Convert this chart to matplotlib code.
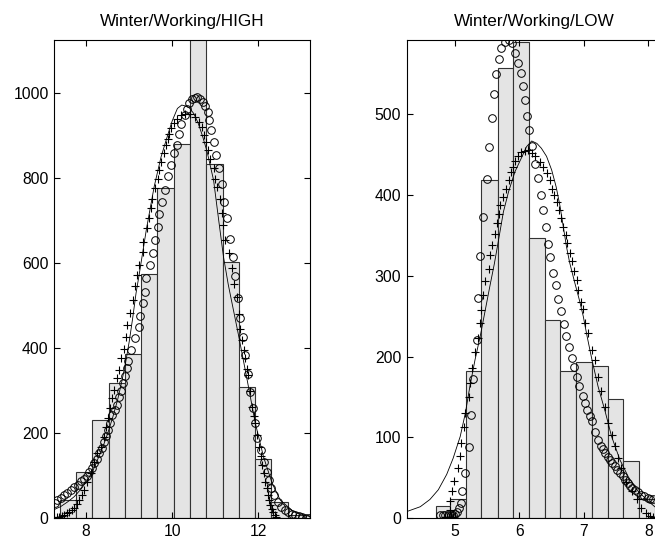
import matplotlib.pyplot as plt
import numpy as np

plt.rcParams['font.family'] = ['Liberation Sans', 'DejaVu Sans']
plt.rcParams['font.size'] = 11.3

# ---------------- Winter/Working/HIGH ----------------
high_edges = [7.389, 7.767, 8.145, 8.523, 8.901, 9.279, 9.657, 10.035,
              10.413, 10.791, 11.169, 11.547, 11.925, 12.303, 12.681, 13.059]
high_counts = [42, 109, 230, 317, 387, 575, 777, 880, 1180, 834, 603, 309, 140, 38, 8]

high_circles = np.array([
    (7.28, 35), (7.33, 42), (7.41, 48), (7.49, 54), (7.56, 60), (7.64, 67), (7.72, 72), (7.80, 78),
    (7.88, 86), (7.95, 93), (8.01, 100), (8.07, 109), (8.13, 118), (8.19, 129), (8.25, 140), (8.30, 152),
    (8.36, 165), (8.42, 180), (8.47, 193), (8.51, 207), (8.56, 224), (8.61, 242), (8.66, 254), (8.71, 266),
    (8.76, 285), (8.81, 300), (8.86, 318), (8.90, 335), (8.94, 352), (8.98, 370), (9.05, 395), (9.13, 423),
    (9.22, 450), (9.26, 475), (9.31, 505), (9.36, 532), (9.40, 564), (9.49, 595), (9.55, 624), (9.60, 654),
    (9.66, 685), (9.70, 715), (9.77, 744), (9.84, 772), (9.91, 805), (9.97, 830), (10.05, 858), (10.11, 879),
    (10.15, 903), (10.21, 927), (10.29, 948), (10.34, 962), (10.40, 978), (10.47, 986), (10.53, 989),
    (10.58, 990), (10.65, 986), (10.71, 980), (10.76, 970), (10.82, 955), (10.86, 936), (10.90, 913),
    (10.96, 885), (11.02, 854), (11.09, 823), (11.15, 786), (11.21, 744), (11.27, 705), (11.33, 656),
    (11.40, 615), (11.46, 570), (11.53, 517), (11.58, 470), (11.64, 427), (11.69, 384), (11.76, 340),
    (11.81, 297), (11.88, 258), (11.93, 223), (11.98, 188), (12.06, 160), (12.12, 132), (12.19, 109),
    (12.24, 89), (12.30, 70), (12.37, 54), (12.45, 38), (12.53, 27), (12.62, 19), (12.70, 13), (12.78, 9),
    (12.86, 6), (12.94, 4), (13.02, 2), (13.10, 1), (13.17, 1)])

high_plus = np.array([
    (7.26, 3), (7.32, 3), (7.37, 3), (7.43, 5), (7.49, 7), (7.55, 11), (7.60, 15), (7.66, 19), (7.72, 23),
    (7.78, 32), (7.84, 42), (7.90, 54), (7.95, 66), (8.03, 85), (8.11, 105), (8.19, 132), (8.26, 152),
    (8.34, 168), (8.42, 191), (8.46, 215), (8.51, 235), (8.56, 258), (8.61, 282), (8.65, 301), (8.71, 329),
    (8.77, 348), (8.81, 376), (8.87, 399), (8.92, 427), (8.96, 454), (9.02, 482), (9.08, 512), (9.14, 545),
    (9.19, 572), (9.23, 595), (9.31, 627), (9.33, 650), (9.41, 682), (9.45, 705), (9.50, 729), (9.54, 752),
    (9.60, 776), (9.66, 799), (9.70, 819), (9.74, 838), (9.80, 858), (9.85, 878), (9.89, 891), (9.93, 905),
    (9.98, 917), (10.05, 929), (10.12, 940), (10.20, 948), (10.30, 952), (10.42, 952), (10.53, 944),
    (10.61, 933), (10.69, 921), (10.74, 901), (10.79, 885), (10.84, 866), (10.88, 846), (10.96, 823),
    (11.00, 799), (11.04, 780), (11.10, 752), (11.16, 717), (11.19, 689), (11.23, 654), (11.31, 623),
    (11.39, 588), (11.43, 552), (11.50, 521), (11.54, 480), (11.58, 446), (11.62, 419), (11.66, 395),
    (11.70, 376), (11.74, 350), (11.77, 336), (11.81, 300), (11.85, 262), (11.89, 240), (11.93, 223),
    (11.97, 195), (12.01, 168), (12.05, 145), (12.09, 125), (12.13, 105), (12.16, 85), (12.19, 70),
    (12.22, 54), (12.25, 42), (12.28, 31), (12.31, 22), (12.34, 15), (12.38, 8), (12.42, 2)])

high_line = np.array([
    (7.26, 20), (7.41, 27), (7.57, 38), (7.72, 50), (7.88, 68), (8.03, 89), (8.15, 110), (8.26, 136),
    (8.38, 165), (8.50, 199), (8.62, 238), (8.73, 278), (8.83, 322), (8.92, 368), (9.00, 415), (9.08, 470),
    (9.16, 530), (9.23, 572), (9.40, 680), (9.58, 780), (9.74, 850), (9.89, 900), (10.00, 935), (10.12, 964),
    (10.22, 972), (10.30, 970), (10.40, 965), (10.50, 952), (10.60, 930), (10.70, 900), (10.81, 862),
    (10.96, 795), (11.08, 700), (11.19, 615), (11.30, 550), (11.42, 490), (11.54, 430), (11.74, 325),
    (11.93, 223), (12.12, 144), (12.32, 82), (12.51, 42), (12.82, 15), (13.20, 3)])

# ---------------- Winter/Working/LOW ----------------
low_edges = [4.70, 4.92, 5.17, 5.41, 5.66, 5.90, 6.145, 6.39, 6.635, 6.88,
             7.12, 7.37, 7.61, 7.86, 8.10]
low_counts = [15, 24, 182, 419, 557, 590, 347, 245, 182, 193, 188, 147, 71, 24]

low_circles = np.array([
    (4.77, 4), (4.81, 4), (4.85, 4), (4.89, 4), (4.93, 4), (4.97, 4), (5.00, 5), (5.03, 8), (5.06, 12),
    (5.09, 18), (5.10, 33), (5.16, 56), (5.21, 88), (5.25, 128), (5.28, 172), (5.34, 221), (5.35, 273),
    (5.39, 324), (5.44, 373), (5.49, 420), (5.53, 459), (5.57, 495), (5.61, 525), (5.63, 550), (5.68, 568),
    (5.72, 582), (5.78, 590), (5.83, 592), (5.88, 588), (5.93, 576), (5.97, 564), (6.02, 551), (6.05, 535),
    (6.09, 518), (6.12, 498), (6.15, 480), (6.19, 461), (6.24, 439), (6.29, 421), (6.33, 400), (6.36, 381),
    (6.41, 360), (6.44, 340), (6.48, 323), (6.52, 304), (6.56, 289), (6.60, 271), (6.64, 256), (6.69, 240),
    (6.73, 226), (6.77, 212), (6.81, 198), (6.84, 187), (6.89, 175), (6.93, 163), (6.98, 151), (7.02, 142),
    (7.05, 134), (7.09, 126), (7.12, 120), (7.17, 107), (7.22, 97), (7.27, 89), (7.30, 85), (7.33, 80),
    (7.37, 76), (7.40, 72), (7.44, 68), (7.48, 64), (7.52, 60), (7.56, 56), (7.60, 52), (7.64, 47),
    (7.68, 43), (7.71, 40), (7.75, 37), (7.79, 35), (7.84, 32), (7.89, 29), (7.94, 27), (7.99, 25),
    (8.03, 24), (8.07, 23)])

low_plus = np.array([
    (4.85, 1), (4.88, 1), (4.91, 1), (4.94, 1), (4.97, 1), (4.92, 10), (4.92, 21), (4.96, 33), (4.99, 46),
    (5.04, 62), (5.08, 77), (5.09, 93), (5.14, 113), (5.16, 130), (5.21, 150), (5.23, 167), (5.26, 186),
    (5.31, 206), (5.35, 223), (5.38, 241), (5.40, 258), (5.43, 276), (5.47, 293), (5.52, 309), (5.54, 326),
    (5.58, 338), (5.62, 352), (5.65, 366), (5.68, 377), (5.70, 388), (5.75, 398), (5.79, 408), (5.83, 419),
    (5.87, 428), (5.90, 435), (5.93, 442), (5.98, 449), (6.03, 453), (6.09, 455), (6.14, 456), (6.19, 452),
    (6.24, 448), (6.32, 441), (6.37, 435), (6.42, 427), (6.47, 419), (6.50, 408), (6.54, 400), (6.59, 391),
    (6.62, 382), (6.65, 371), (6.68, 361), (6.72, 351), (6.74, 341), (6.79, 328), (6.82, 318), (6.84, 306),
    (6.89, 295), (6.91, 283), (6.95, 268), (6.98, 259), (7.02, 241), (7.07, 229), (7.12, 208), (7.17, 196),
    (7.22, 175), (7.27, 157), (7.33, 138), (7.38, 118), (7.43, 103), (7.48, 89), (7.53, 74), (7.58, 62),
    (7.66, 45), (7.74, 33), (7.82, 23), (7.89, 12), (7.97, 6), (8.03, 3), (8.07, 1)])

low_line = np.array([
    (4.25, 8), (4.46, 14), (4.61, 23), (4.74, 35), (4.87, 54), (4.97, 74), (5.08, 101), (5.16, 130),
    (5.23, 163), (5.31, 196), (5.39, 225), (5.47, 258), (5.54, 287), (5.61, 315), (5.67, 342), (5.75, 379),
    (5.83, 404), (5.93, 429), (6.03, 446), (6.11, 460), (6.19, 467), (6.27, 464), (6.34, 458), (6.42, 448),
    (6.50, 431), (6.57, 410), (6.63, 386), (6.68, 361), (6.73, 336), (6.78, 316), (6.86, 291), (6.93, 270),
    (6.99, 250), (7.05, 225), (7.12, 198), (7.22, 163), (7.33, 132), (7.43, 101), (7.56, 72), (7.69, 51),
    (7.82, 35), (7.97, 23), (8.10, 14), (8.25, 8)])


def draw_panel(ax, edges, counts, circles, plus, line, title, xlim, ylim, xticks, yticks):
    edges = np.asarray(edges)
    ax.bar(edges[:-1], counts, width=np.diff(edges), align='edge',
           color='#e4e4e4', edgecolor='#333333', linewidth=0.8, zorder=1)
    ax.plot(line[:, 0], line[:, 1], color='black', linewidth=0.6, zorder=2)
    ax.plot(plus[:, 0], plus[:, 1], '+', color='black', markersize=6,
            markeredgewidth=0.8, zorder=3)
    ax.plot(circles[:, 0], circles[:, 1], 'o', markerfacecolor='none',
            markeredgecolor='black', markersize=5.5, markeredgewidth=0.7, zorder=4)
    ax.set_xlim(*xlim)
    ax.set_ylim(*ylim)
    ax.set_xticks(xticks)
    ax.set_yticks(yticks)
    ax.tick_params(direction='in', top=True, right=True, length=4, width=0.8,
                   labelsize=11.3, pad=4)
    for s in ax.spines.values():
        s.set_linewidth(0.8)
    ax.set_title(title, fontsize=12.3, pad=10)


fig = plt.figure(figsize=(6.55, 5.45), dpi=100)
ax1 = fig.add_axes([0.0829, 0.0495, 0.3904, 0.877])
ax2 = fig.add_axes([0.621, 0.0495, 0.3904, 0.877])

draw_panel(ax1, high_edges, high_counts, high_circles, high_plus, high_line,
           'Winter/Working/HIGH', (7.26, 13.2), (0, 1125), [8, 10, 12],
           [0, 200, 400, 600, 800, 1000])
draw_panel(ax2, low_edges, low_counts, low_circles, low_plus, low_line,
           'Winter/Working/LOW', (4.25, 8.22), (0, 592), [5, 6, 7, 8],
           [0, 100, 200, 300, 400, 500])

fig.savefig('out.png', dpi=100)
